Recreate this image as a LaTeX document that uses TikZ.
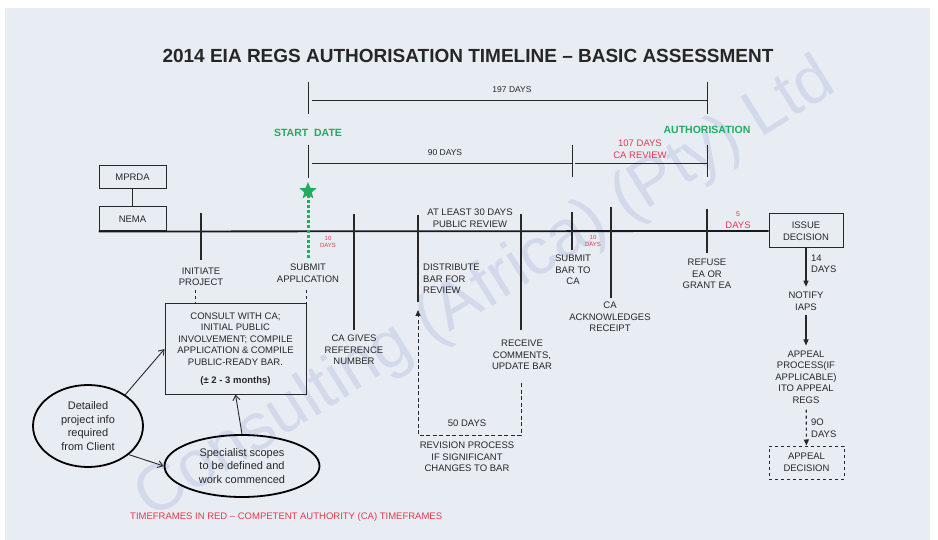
\documentclass[tikz,border=0pt]{standalone}
\usepackage{fontspec}
\setmainfont{Liberation Sans}
\usetikzlibrary{arrows.meta,shapes.geometric,positioning}

\definecolor{bgc}{RGB}{232,236,243}
\definecolor{ink}{RGB}{40,40,40}
\definecolor{cared}{RGB}{228,58,78}
\definecolor{okgreen}{RGB}{34,172,96}
\definecolor{wmark}{RGB}{210,217,235}

\begin{document}
\begin{tikzpicture}[x=1pt,y=-1pt,
    lbl/.style={align=center,inner sep=0pt,text=ink,font=\fontsize{9.5}{11.5}\selectfont},
    redlbl/.style={lbl,text=cared},
    tinyred/.style={align=center,inner sep=0pt,text=cared,font=\fontsize{6}{7.5}\selectfont},
    greenlbl/.style={inner sep=0pt,text=okgreen,font=\fontsize{10.5}{12}\selectfont\bfseries},
    box/.style={lbl,draw=ink,line width=1pt},
    oval/.style={draw=black,line width=1.8pt,ellipse,align=center,inner sep=0pt,
      text=ink,font=\fontsize{11}{13.5}\selectfont},
    tick/.style={draw=ink,line width=1.2pt},
    span/.style={draw=ink,line width=0.9pt},
    flow/.style={draw=ink,line width=0.9pt,-{Straight Barb[length=5pt,width=7pt]}},
    down/.style={draw=ink,line width=1.1pt,-{Triangle[length=6pt,width=5pt]}},
  ]

    % page
    \useasboundingbox (0,0) rectangle (938,540);
    \fill[white] (0,0) rectangle (938,540);
    \fill[bgc] (5,8) rectangle (930,540);
    \node[rotate=32,inner sep=0pt,text=wmark,font=\fontsize{66}{70}\selectfont] (wm) at (486,290)
      {Consulting (Africa) (Pty) Ltd};

    \node[inner sep=0pt,text=black!85,font=\fontsize{19}{22}\selectfont\bfseries] (title) at (468,56)
      {2014 EIA REGS AUTHORISATION TIMELINE -- BASIC ASSESSMENT};

    % 197 days span
    \coordinate (sdT) at (308,82);  \coordinate (sdB) at (308,114);
    \coordinate (auT) at (707,82);  \coordinate (auB) at (707,114);
    \coordinate (s1L) at (312,100); \coordinate (s1R) at (707,100);
    \draw[span] (sdT) -- (sdB);
    \draw[span] (auT) -- (auB);
    \draw[span] (s1L) -- (s1R);
    \node[lbl,font=\fontsize{8.5}{10}\selectfont] (d197) at (512,90) {197 DAYS};

    \node[greenlbl] (start) at (308,133) {START\ \ DATE};
    \node[greenlbl] (auth) at (707,130) {AUTHORISATION};

    % 90 days + 107 days span
    \coordinate (s2aT) at (308,145); \coordinate (s2aB) at (308,178);
    \coordinate (s2bT) at (572,145); \coordinate (s2bB) at (572,177);
    \coordinate (s2cT) at (707,145); \coordinate (s2cB) at (707,177);
    \coordinate (s2L) at (312,163);  \coordinate (s2M) at (572,163);
    \coordinate (s2N) at (575,163);  \coordinate (s2R) at (707,163);
    \draw[span] (s2aT) -- (s2aB);
    \draw[span] (s2bT) -- (s2bB);
    \draw[span] (s2cT) -- (s2cB);
    \draw[span] (s2L) -- (s2M);
    \draw[span] (s2N) -- (s2R);
    \node[lbl,font=\fontsize{8.5}{10}\selectfont] (d90) at (445,153) {90 DAYS};
    \node[redlbl] (d107) at (640,149) {107 DAYS\\CA REVIEW};

    % act boxes
    \node[box,minimum width=67pt,minimum height=23pt] (mprda) at (132.5,177.5) {MPRDA};
    \node[box,minimum width=67pt,minimum height=24pt] (nema) at (132.5,219) {NEMA};
    \draw[span] (mprda) -- (nema);

    \node[box,minimum width=74pt,minimum height=34pt] (issue) at (806,231) {ISSUE\\DECISION};

    % main timeline
    \draw[draw=black!90,line width=1.8pt] (nema.south west) -- (issue.west);

    % start marker
    \node[star,star points=5,star point ratio=2.3,fill=okgreen,inner sep=0pt,minimum size=18pt] (mark) at (308,191) {};
    \coordinate (dotB) at (308,258);
    \draw[okgreen,line width=3pt,dash pattern=on 3pt off 2pt] (mark.south) -- (dotB);
    \node[tinyred] (d10a) at (328,242) {10\\DAYS};

    % ticks along the timeline
    \coordinate (initT) at (201,213); \coordinate (initB) at (201,260);
    \draw[tick] (initT) -- (initB);
    \node[lbl] (initiate) at (201,277) {INITIATE\\PROJECT};
    \node[lbl] (submit) at (308,273) {SUBMIT\\APPLICATION};

    \coordinate (refT) at (354,214); \coordinate (refB) at (354,330);
    \draw[tick] (refT) -- (refB);
    \node[lbl] (refno) at (354,350) {CA GIVES\\REFERENCE\\NUMBER};

    \coordinate (distT) at (418,215); \coordinate (distB) at (418,302);
    \draw[tick] (distT) -- (distB);
    \node[lbl,align=left,anchor=west] (distribute) at (423,279) {DISTRIBUTE\\BAR FOR\\REVIEW};
    \node[lbl] (review) at (470,218) {AT LEAST 30 DAYS\\PUBLIC REVIEW};

    \coordinate (recT) at (521,214); \coordinate (recB) at (521,330);
    \draw[tick] (recT) -- (recB);
    \node[lbl] (receive) at (522,355) {RECEIVE\\COMMENTS,\\UPDATE BAR};

    \coordinate (barT) at (572,212); \coordinate (barB) at (572,250);
    \draw[tick] (barT) -- (barB);
    \node[lbl] (submitbar) at (573,270) {SUBMIT\\BAR TO\\CA};
    \node[tinyred] (d10b) at (593,241) {10\\DAYS};

    \coordinate (ackT) at (611,207); \coordinate (ackB) at (611,298);
    \draw[tick] (ackT) -- (ackB);
    \node[lbl] (ack) at (610,317) {CA\\ACKNOWLEDGES\\RECEIPT};

    \coordinate (refuT) at (707,209); \coordinate (refuB) at (707,253);
    \draw[tick] (refuT) -- (refuB);
    \node[lbl] (refuse) at (707,274) {REFUSE\\EA OR\\GRANT EA};
    \node[redlbl] (d5) at (738,220) {{\fontsize{7}{8}\selectfont 5}\\DAYS};

    % preparation phase
    \node[box,minimum width=141pt,minimum height=90pt] (consult) at (235.5,349)
      {CONSULT WITH CA;\\INITIAL PUBLIC\\INVOLVEMENT; COMPILE\\APPLICATION \& COMPILE\\PUBLIC-READY BAR.\\[7pt]
       \textbf{(± 2 - 3 months)}};
    \coordinate (initD) at (195,290);
    \coordinate (subD) at (306,290);
    \draw[span,dashed] (initD) -- (initD |- consult.north);
    \draw[span,dashed] (subD) -- (subD |- consult.north);

    \node[oval,minimum width=110pt,minimum height=82pt] (client) at (88,426)
      {Detailed\\project info\\required\\from Client};
    \node[oval,minimum width=155pt,minimum height=62pt] (scopes) at (242,466)
      {Specialist scopes\\to be defined and\\work commenced};

    \path (client.40) edge[flow] (consult.west);
    \path (client.-35) edge[flow] (scopes.west);
    \path (scopes.north) edge[flow] (consult.south);

    % revision loop
    \coordinate (loopA) at (521,383);
    \coordinate (loopB) at (418,310);
    \draw[span,dash pattern=on 4pt off 2.5pt,-{Triangle[length=6pt,width=5pt]}]
      (loopA) -- ++(0,52) -| (loopB);
    \node[lbl] (d50) at (467,423) {50 DAYS};
    \node[lbl] (revision) at (467,457) {REVISION PROCESS\\IF SIGNIFICANT\\CHANGES TO BAR};

    % decision and appeal
    \node[lbl] (notify) at (806,301) {NOTIFY\\IAPS};
    \node[lbl] (appeal) at (806,377) {APPEAL\\PROCESS(IF\\APPLICABLE)\\ITO APPEAL\\REGS};
    \node[box,dashed,minimum width=75pt,minimum height=33pt] (decision) at (806.5,462.5) {APPEAL\\DECISION};

    \path (issue) edge[down,shorten >=5pt] (notify);
    \path (notify) edge[down,shorten <=5pt,shorten >=5pt] (appeal);
    \path (appeal) edge[down,dashed,shorten <=6pt] (decision);
    \node[lbl,align=left,anchor=west] (d14) at (811,264) {14\\DAYS};
    \node[lbl,align=left,anchor=west] (d9o) at (811,428) {9O\\DAYS};

    \node[redlbl,anchor=west] (note) at (130,517)
      {TIMEFRAMES IN RED -- COMPETENT AUTHORITY (CA) TIMEFRAMES};

  \end{tikzpicture}
\end{document}
